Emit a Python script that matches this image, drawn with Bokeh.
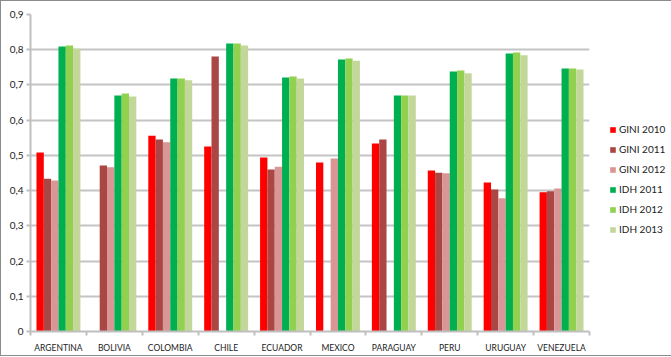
import numpy as np
from bokeh.plotting import figure
from bokeh.models import (ColumnDataSource, FixedTicker, CustomJSTickFormatter,
                          Legend, LegendItem)
from bokeh.embed import file_html
from bokeh.resources import INLINE

countries = ["ARGENTINA", "BOLIVIA", "COLOMBIA", "CHILE", "ECUADOR",
             "MEXICO", "PARAGUAY", "PERU", "URUGUAY", "VENEZUELA"]
nan = float("nan")
gini_2010 = [0.508, nan, 0.556, 0.525, 0.494, 0.480, 0.534, 0.457, 0.423, 0.395]
gini_2011 = [0.434, 0.471, 0.545, 0.781, 0.460, nan, 0.545, 0.451, 0.403, 0.398]
gini_2012 = [0.429, 0.466, 0.537, nan, 0.468, 0.491, nan, 0.449, 0.378, 0.406]
idh_2011 = [0.809, 0.670, 0.718, 0.818, 0.721, 0.772, 0.670, 0.738, 0.789, 0.747]
idh_2012 = [0.812, 0.676, 0.718, 0.818, 0.724, 0.775, 0.670, 0.741, 0.792, 0.747]
idh_2013 = [0.803, 0.667, 0.713, 0.812, 0.718, 0.769, 0.670, 0.733, 0.784, 0.744]
series_names = ["GINI 2010", "GINI 2011", "GINI 2012", "IDH 2011", "IDH 2012", "IDH 2013"]
series_values = [gini_2010, gini_2011, gini_2012, idh_2011, idh_2012, idh_2013]
colors = ["#FF0000", "#AA4643", "#DA9694", "#00B050", "#92D050", "#C4D79B"]
y_ticks = [0, 0.1, 0.2, 0.3, 0.4, 0.5, 0.6, 0.7, 0.8, 0.9]

FONT = "Lato"
p = figure(frame_width=559, frame_height=317, x_range=(0, len(countries)),
           y_range=(0, 0.9), output_backend="svg", toolbar_location=None,
           min_border_left=29, min_border_top=13, min_border_bottom=22,
           min_border_right=78)
p.outline_line_color = None
p.styles = {"border": "1px solid #8c8c8c"}

centers = np.arange(len(countries)) + 0.5
bw = 0.131
items = []
for k, (name, vals, col) in enumerate(zip(series_names, series_values, colors)):
    off = (k - 2.5) * bw
    vals = np.array(vals, dtype=float)
    mask = ~np.isnan(vals)
    src = ColumnDataSource(dict(x=centers[mask] + off, top=vals[mask]))
    r = p.vbar(x="x", top="top", width=bw, source=src, fill_color=col,
               line_color=None)
    items.append(LegendItem(label=name, renderers=[r]))

# y axis
p.yaxis.ticker = FixedTicker(ticks=y_ticks)
p.yaxis.formatter = CustomJSTickFormatter(
    code="return tick == 0 ? '0' : tick.toFixed(1).replace('.', ',');")
p.yaxis.axis_line_color = "#bfbfbf"
p.yaxis.axis_line_width = 2
p.yaxis.major_tick_line_color = "#bfbfbf"
p.yaxis.major_tick_line_width = 2
p.yaxis.major_tick_out = 4
p.yaxis.major_tick_in = 0
p.yaxis.minor_tick_line_color = None
p.yaxis.major_label_standoff = 3
p.yaxis.major_label_text_font = FONT
p.yaxis.major_label_text_font_size = "10px"
p.yaxis.major_label_text_color = "#222222"

# x axis
p.xaxis.ticker = FixedTicker(ticks=list(centers),
                             minor_ticks=list(range(len(countries) + 1)))
p.xaxis.major_label_overrides = {float(c): n for c, n in zip(centers, countries)}
p.xaxis.axis_line_color = "#bfbfbf"
p.xaxis.axis_line_width = 2
p.xaxis.major_tick_line_color = None
p.xaxis.minor_tick_line_color = "#bfbfbf"
p.xaxis.minor_tick_line_width = 2
p.xaxis.minor_tick_out = 4
p.xaxis.minor_tick_in = 0
p.xaxis.major_label_standoff = 5
p.xaxis.major_label_text_font = FONT
p.xaxis.major_label_text_font_size = "8.5px"
p.xaxis.major_label_text_color = "#222222"

p.xgrid.grid_line_color = None
p.ygrid.ticker = FixedTicker(ticks=y_ticks)
p.ygrid.grid_line_color = "#c4c4c4"
p.ygrid.grid_line_width = 2

legend = Legend(items=items, location=(20, 92), orientation="vertical")
legend.border_line_color = None
legend.background_fill_alpha = 0
legend.padding = 0
legend.margin = 0
legend.spacing = 0
legend.glyph_width = 7
legend.glyph_height = 7
legend.label_height = 20
legend.label_standoff = 3
legend.label_text_font = FONT
legend.label_text_font_size = "10px"
legend.label_text_color = "#222222"
p.add_layout(legend, "right")

open("out.html", "w").write(file_html(p, INLINE))
